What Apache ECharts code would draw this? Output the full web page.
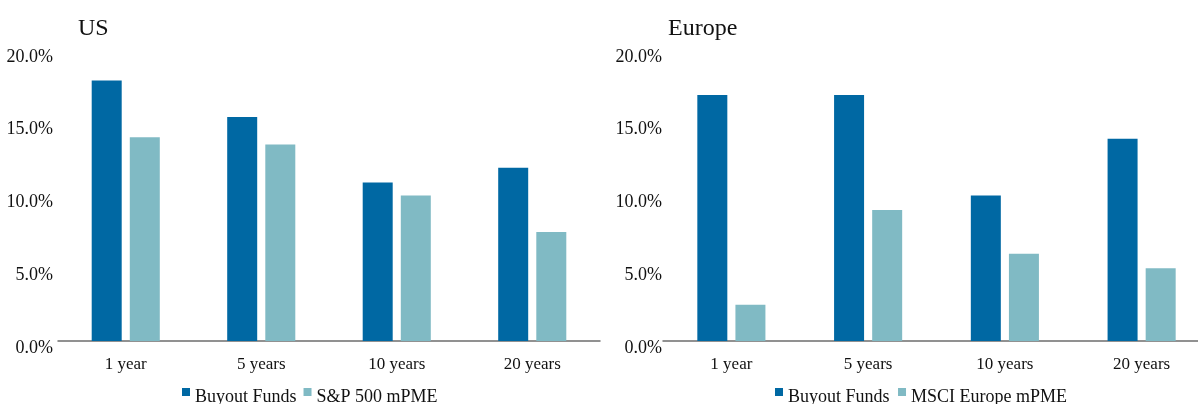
<!DOCTYPE html>
<html>
<head>
<meta charset="utf-8">
<script src="https://cdn.jsdelivr.net/npm/echarts@6/dist/echarts.min.js"></script>
<style>
  html, body { margin: 0; padding: 0; background: #fff; overflow: hidden; }
  #chart { width: 1212px; height: 404px; }
</style>
</head>
<body>
<div id="chart"></div>
<script>
// data
const periods = ['1 year', '5 years', '10 years', '20 years']
const usBuyout = [17.9, 15.4, 10.9, 11.9]
const usSP500 = [14.0, 13.5, 10.0, 7.5]
const euBuyout = [16.9, 16.9, 10.0, 13.9]
const euMSCI = [2.5, 9.0, 6.0, 5.0]
const yTicks = [0, 5, 10, 15, 20]

const dark = '#0068a3'
const light = '#80bac4'
const font = "'Liberation Serif', 'Times New Roman', serif"
// small square sitting in the upper part of a taller box, so it rides above the text centre
const legendIcon = 'path://M0,0L8,0L8,8L0,8Z M0,18L0.01,18'

const chart = echarts.init(document.getElementById('chart'))

function xAxis (idx) {
  return {
    type: 'category',
    gridIndex: idx,
    data: periods,
    axisTick: { show: false },
    axisLine: { lineStyle: { color: '#6e6e6e', width: 1.5 } },
    axisLabel: { color: '#111', fontFamily: font, fontSize: 17, margin: 15 }
  }
}

function yAxis (idx, margin) {
  return {
    type: 'value',
    gridIndex: idx,
    min: yTicks[0],
    max: yTicks[yTicks.length - 1],
    interval: 5,
    splitLine: { show: false },
    axisLine: { show: false },
    axisTick: { show: false },
    axisLabel: {
      color: '#111',
      fontFamily: font,
      fontSize: 18,
      margin: margin,
      verticalAlign: 'top',
      lineHeight: 14,
      formatter: v => v.toFixed(1) + '%'
    }
  }
}

function bar (name, data, color, idx) {
  return {
    name: name,
    type: 'bar',
    xAxisIndex: idx,
    yAxisIndex: idx,
    data: data,
    barWidth: 30,
    barGap: '27%',
    itemStyle: { color: color },
    emphasis: { disabled: true }
  }
}

function legend (names, left, gap) {
  return {
    data: names,
    left: left,
    top: 383,
    icon: legendIcon,
    itemWidth: 8,
    itemHeight: 18,
    itemGap: gap,
    textStyle: { color: '#111', fontFamily: font, fontSize: 18 }
  }
}

chart.setOption({
  animation: false,
  backgroundColor: '#fff',
  title: [
    { text: 'US', left: 73, top: 12, textStyle: { color: '#111', fontFamily: font, fontSize: 24, fontWeight: 'normal' } },
    { text: 'Europe', left: 663, top: 12, textStyle: { color: '#111', fontFamily: font, fontSize: 24, fontWeight: 'normal' } }
  ],
  legend: [
    legend(['Buyout Funds', 'S&P 500 mPME'], 177, 7),
    legend(['Buyout Funds ', 'MSCI Europe mPME'], 770, 4)
  ],
  grid: [
    { left: 58, top: 50, width: 542, height: 291 },
    { left: 663, top: 50, width: 547, height: 291 }
  ],
  xAxis: [xAxis(0), xAxis(1)],
  yAxis: [yAxis(0, 5), yAxis(1, 1)],
  series: [
    bar('Buyout Funds', usBuyout, dark, 0),
    bar('S&P 500 mPME', usSP500, light, 0),
    bar('Buyout Funds ', euBuyout, dark, 1),
    bar('MSCI Europe mPME', euMSCI, light, 1)
  ]
})
</script>
</body>
</html>
